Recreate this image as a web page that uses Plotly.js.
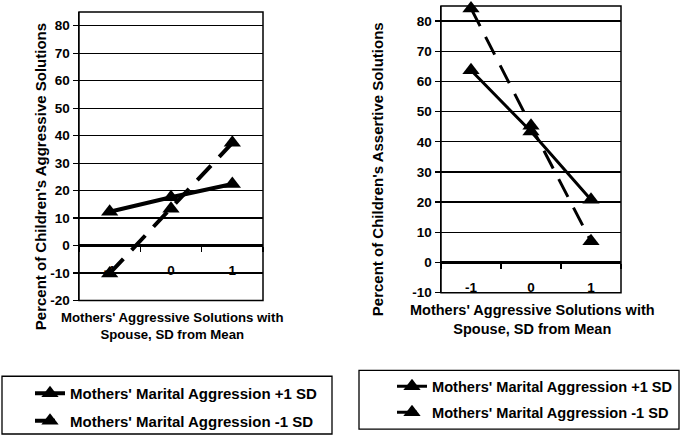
<!DOCTYPE html>
<html>
<head>
<meta charset="utf-8">
<script src="https://cdn.plot.ly/plotly-3.0.1.min.js"></script>
<style>html,body{margin:0;padding:0;background:#fff;}#chart{width:690px;height:437px;}</style>
</head>
<body>
<div id="chart"></div>
<script>
// ---- data ----
const categories = ['-1', '0', '1'];
const aggressivePlus1SD = [12.3, 17.6, 22.4];
const aggressiveMinus1SD = [-10.1, 13.4, 37.4];
const assertivePlus1SD = [63.7, 43.4, 20.8];
const assertiveMinus1SD = [84.2, 45.3, 7.0];
const leftYTicks = [-20, -10, 0, 10, 20, 30, 40, 50, 60, 70, 80];
const rightYTicks = [-10, 0, 10, 20, 30, 40, 50, 60, 70, 80];
const seriesNames = ["Mothers' Marital Aggression +1 SD", "Mothers' Marital Aggression -1 SD"];
const leftYTitle = "Percent of Children's Aggressive Solutions";
const rightYTitle = "Percent of Children's Assertive Solutions";
const xTitle = "Mothers' Aggressive Solutions with<br>Spouse, SD from Mean";

// ---- geometry helpers (pixel -> paper) ----
const W = 690, H = 437;
const px = v => v / W;
const py = v => 1 - v / H;
const b = s => '<b>' + s + '</b>';

const FONT = 'Liberation Sans';
const yDomL = [py(302), py(12)];
const yDomR = [py(294), py(6)];
const rangeL = [-20, 85];
const rangeR = [-10, 85];
const zeroPos = (dom, r) => dom[0] + (dom[1] - dom[0]) * (0 - r[0]) / (r[1] - r[0]);

const mk = (y, xa, ya, name, dashed, lw, leg, grp) => ({
  x: categories, y: y, xaxis: xa, yaxis: ya, name: b(name),
  type: 'scatter', mode: 'lines+markers', cliponaxis: false,
  line: {color: '#000', width: lw, dash: dashed ? '20px,12px' : 'solid'},
  marker: {symbol: 'triangle-up', size: 15, color: '#000'},
  legend: leg, legendgroup: grp, showlegend: true
});

const traces = [
  mk(aggressivePlus1SD, 'x', 'y', seriesNames[0], false, 4, 'legend', 'a'),
  mk(aggressiveMinus1SD, 'x', 'y', seriesNames[1], true, 4, 'legend', 'b'),
  mk(assertivePlus1SD, 'x2', 'y2', seriesNames[0], false, 3, 'legend2', 'c'),
  mk(assertiveMinus1SD, 'x2', 'y2', seriesNames[1], true, 3, 'legend2', 'd')
];

const tickFont = {family: FONT, size: 13.5, color: '#000'};
const yAx = (dom, r, anchor, tv) => ({
  domain: dom, range: r, anchor: anchor,
  tickmode: 'array', tickvals: tv, ticktext: tv.map(v => b(String(v))),
  showgrid: true, gridcolor: '#000', gridwidth: 1.3,
  zeroline: true, zerolinecolor: '#000', zerolinewidth: 3,
  showline: true, linecolor: '#000', linewidth: 1.5,
  ticks: 'outside', ticklen: 5, tickcolor: '#000', tickwidth: 1.3,
  tickfont: tickFont, fixedrange: true, layer: 'below traces'
});
const xAx = (dom, pos) => ({
  domain: dom, type: 'category', categoryorder: 'array', categoryarray: categories,
  tickmode: 'array', tickvals: categories, ticktext: categories.map(b),
  range: [-0.5, 2.5], anchor: 'free', position: pos,
  showgrid: false, zeroline: false, showline: true, linecolor: '#000', linewidth: 1.5,
  ticks: 'outside', tickson: 'boundaries', ticklen: 5, tickcolor: '#000', tickwidth: 1.3,
  tickfont: tickFont, ticklabelstandoff: 12, fixedrange: true, layer: 'below traces'
});

const layout = {
  width: W, height: H,
  margin: {l: 0, r: 0, t: 0, b: 0},
  paper_bgcolor: '#fff', plot_bgcolor: '#fff',
  font: {family: FONT, color: '#000'},
  xaxis: xAx([px(79), px(263)], zeroPos(yDomL, rangeL)),
  yaxis: yAx(yDomL, rangeL, 'x', leftYTicks),
  xaxis2: xAx([px(441), px(621)], zeroPos(yDomR, rangeR)),
  yaxis2: yAx(yDomR, rangeR, 'x2', rightYTicks),
  legend: {
    x: px(30), y: py(379), xanchor: 'left', yanchor: 'top',
    bgcolor: 'rgba(0,0,0,0)', borderwidth: 0, tracegroupgap: 5,
    font: {family: FONT, size: 15, color: '#000'}
  },
  legend2: {
    x: px(392), y: py(372), xanchor: 'left', yanchor: 'top',
    bgcolor: 'rgba(0,0,0,0)', borderwidth: 0, tracegroupgap: 4,
    font: {family: FONT, size: 14.6, color: '#000'}
  },
  shapes: [
    {type: 'rect', xref: 'x domain', yref: 'y domain', x0: 0, x1: 1, y0: 0, y1: 1, line: {color: '#000', width: 1.5}},
    {type: 'rect', xref: 'x2 domain', yref: 'y2 domain', x0: 0, x1: 1, y0: 0, y1: 1, line: {color: '#000', width: 1.5}},
    {type: 'rect', xref: 'paper', yref: 'paper', x0: px(2), x1: px(332), y0: py(436), y1: py(378), line: {color: '#000', width: 1.3}},
    {type: 'rect', xref: 'paper', yref: 'paper', x0: px(359), x1: px(679), y0: py(431), y1: py(372), line: {color: '#000', width: 1.3}}
  ],
  annotations: [
    {xref: 'paper', yref: 'paper', x: px(40), y: py(178), xanchor: 'center', yanchor: 'middle',
     text: b(leftYTitle), textangle: -90, showarrow: false, font: {family: FONT, size: 15, color: '#000'}},
    {xref: 'paper', yref: 'paper', x: px(377), y: py(170), xanchor: 'center', yanchor: 'middle',
     text: b(rightYTitle), textangle: -90, showarrow: false, font: {family: FONT, size: 15, color: '#000'}},
    {xref: 'paper', yref: 'paper', x: px(172), y: py(328), xanchor: 'center', yanchor: 'middle',
     text: b(xTitle), showarrow: false, font: {family: FONT, size: 13.2, color: '#000'}},
    {xref: 'paper', yref: 'paper', x: px(532), y: py(321), xanchor: 'center', yanchor: 'middle',
     text: b(xTitle), showarrow: false, font: {family: FONT, size: 14.5, color: '#000'}}
  ]
};

Plotly.newPlot('chart', traces, layout, {staticPlot: true, displayModeBar: false});
</script>
</body>
</html>
